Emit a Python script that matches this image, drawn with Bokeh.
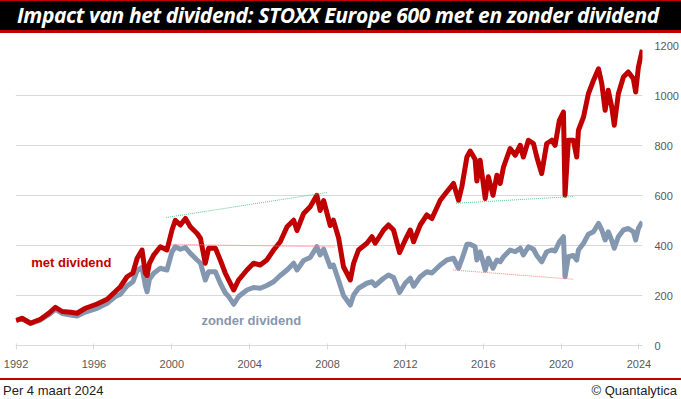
from bokeh.plotting import figure
from bokeh.models import Range1d, FixedTicker, Div
from bokeh.layouts import column
from bokeh.core.properties import value
from bokeh.embed import file_html
from bokeh.resources import INLINE

title_text = "Impact van het dividend: STOXX Europe 600 met en zonder dividend"
footer_left = "Per 4 maart 2024"
footer_right = "© Quantalytica"

dates = [1992.0, 1992.3, 1992.74, 1993.25, 1993.68, 1994.02, 1994.37, 1994.8, 1995.13, 1995.56,
         1996.16, 1996.68, 1997.1, 1997.36, 1997.7, 1998.0, 1998.22, 1998.47, 1998.64, 1998.73,
         1998.85, 1999.07, 1999.41, 1999.75, 2000.01, 2000.18, 2000.44, 2000.7, 2000.95, 2001.3,
         2001.47, 2001.72, 2001.89, 2002.24, 2002.49, 2002.75, 2002.92, 2003.18, 2003.43, 2003.86,
         2004.2, 2004.54, 2004.88, 2005.23, 2005.57, 2005.92, 2006.26, 2006.43, 2006.77, 2007.11,
         2007.45, 2007.62, 2007.8, 2008.14, 2008.3, 2008.57, 2008.82, 2009.17, 2009.34, 2009.59,
         2010.02, 2010.28, 2010.45, 2010.88, 2011.13, 2011.39, 2011.7, 2011.99, 2012.25, 2012.42,
         2012.76, 2013.1, 2013.36, 2013.79, 2014.13, 2014.47, 2014.73, 2014.9, 2015.16, 2015.33,
         2015.58, 2015.67, 2015.84, 2016.1, 2016.26, 2016.5, 2016.7, 2016.87, 2017.04, 2017.38,
         2017.64, 2017.9, 2018.06, 2018.32, 2018.58, 2018.75, 2019.0, 2019.26, 2019.52, 2019.69,
         2019.91, 2020.12, 2020.2, 2020.37, 2020.63, 2020.8, 2020.89, 2021.15, 2021.4, 2021.66,
         2021.92, 2022.09, 2022.26, 2022.42, 2022.6, 2022.73, 2022.94, 2023.2, 2023.45, 2023.71,
         2023.83, 2023.97, 2024.17]

met_dividend = [100, 109, 89, 105, 129, 153, 136, 133, 129, 149,
                166, 185, 216, 235, 275, 290, 349, 382, 290, 280,
                329, 362, 395, 382, 462, 501, 482, 508, 475, 448,
                429, 329, 389, 389, 342, 289, 262, 222, 262, 302,
                329, 322, 342, 382, 415, 475, 501, 460, 528, 555,
                601, 540, 580, 480, 501, 430, 315, 262, 329, 382,
                409, 435, 409, 462, 482, 462, 372, 422, 462, 415,
                482, 522, 508, 581, 615, 648, 581, 635, 754, 778,
                745, 658, 741, 588, 675, 601, 681, 648, 714, 788,
                761, 801, 754, 821, 808, 754, 688, 808, 821, 801,
                901, 934, 601, 821, 821, 754, 861, 914, 1007, 1060,
                1107, 1047, 941, 1021, 954, 881, 1007, 1074, 1094, 1067,
                1014, 1114, 1183]

zonder_dividend = [100, 108, 89, 102, 123, 145, 128, 122, 118, 134,
                   149, 169, 196, 205, 238, 255, 300, 312, 240, 215,
                   265, 289, 309, 302, 375, 395, 385, 392, 369, 342,
                   330, 262, 295, 295, 249, 210, 196, 165, 196, 222,
                   232, 229, 240, 255, 280, 302, 329, 302, 340, 352,
                   395, 362, 385, 315, 322, 260, 200, 162, 202, 229,
                   249, 255, 240, 269, 282, 272, 212, 249, 269, 237,
                   275, 295, 290, 322, 342, 349, 309, 345, 405, 405,
                   395, 342, 375, 302, 349, 309, 342, 335, 355, 382,
                   375, 389, 362, 395, 385, 360, 335, 375, 382, 378,
                   415, 435, 275, 355, 360, 342, 382, 409, 445, 455,
                   488, 462, 422, 455, 420, 389, 435, 462, 468, 455,
                   422, 469, 495]

# dotted trend lines (start, end)
green_1_x = [1999.71, 2007.97]
green_1_y = [512, 612]
red_1_x = [1999.99, 2008.4]
red_1_y = [405, 394]
green_2_x = [2014.6, 2020.66]
green_2_y = [569, 596]
red_2_x = [2014.44, 2020.62]
red_2_y = [302, 265]

x_ticks = [1992, 1996, 2000, 2004, 2008, 2012, 2016, 2020, 2024]
y_ticks = [0, 200, 400, 600, 800, 1000, 1200]

RED = "#C00000"
GREY = "#8497B0"

W = 681

title_div = Div(
    text=(f'<div style="width:{W}px;height:33px;box-sizing:border-box;background:#000;'
          f'border-top:1px solid {RED};border-bottom:3px solid {RED};color:#fff;'
          f'font-family:\'Open Sans\';font-weight:bold;font-style:italic;font-size:21px;'
          f'letter-spacing:-0.4px;line-height:29px;padding-left:17px;white-space:nowrap;overflow:hidden">'
          f'{title_text}</div>'),
    width=W, height=33, margin=0)

p = figure(width=W, height=345, output_backend="svg", toolbar_location=None,
           x_range=Range1d(1991.97, 2024.18), y_range=Range1d(0, 1200),
           y_axis_location="right", min_border_left=15, min_border_right=39,
           min_border_top=12, min_border_bottom=33, margin=0)
p.outline_line_color = None
p.background_fill_color = "white"
p.border_fill_color = "white"

p.xgrid.visible = False
p.ygrid.grid_line_color = "#D9D9D9"
p.ygrid.grid_line_width = 1
p.yaxis.ticker = FixedTicker(ticks=y_ticks)
p.xaxis.ticker = FixedTicker(ticks=x_ticks)

p.yaxis.axis_line_color = None
p.yaxis.major_tick_line_color = None
p.yaxis.minor_tick_line_color = None
p.yaxis.major_label_text_font = "Liberation Sans"
p.yaxis.major_label_text_font_size = "11px"
p.yaxis.major_label_text_color = "#595959"
p.yaxis.major_label_standoff = 6

p.xaxis.axis_line_color = "#D9D9D9"
p.xaxis.major_tick_line_color = "#D9D9D9"
p.xaxis.minor_tick_line_color = None
p.xaxis.major_tick_in = 2
p.xaxis.major_tick_out = 4
p.xaxis.major_label_text_font = "Liberation Sans"
p.xaxis.major_label_text_font_size = "11px"
p.xaxis.major_label_text_color = "#595959"
p.xaxis.major_label_standoff = 10

p.line(dates, zonder_dividend, line_color=GREY, line_width=5, line_join="round")
p.line(dates, met_dividend, line_color=RED, line_width=5, line_join="round")

p.line(green_1_x, green_1_y, line_color="#5CC98A", line_width=1, line_dash="1 1")
p.line(red_1_x, red_1_y, line_color="#FF7F7F", line_width=1, line_dash="1 1")
p.line(green_2_x, green_2_y, line_color="#5CC98A", line_width=1, line_dash="1 1")
p.line(red_2_x, red_2_y, line_color="#FF7F7F", line_width=1, line_dash="1 1")

p.text(x=[1994.84], y=[334], text=["met dividend"], text_color=RED,
       text_font=value("Liberation Sans"), text_font_style="bold", text_font_size="13px",
       text_align="center", text_baseline="middle")
p.text(x=[2004.08], y=[100], text=["zonder dividend"], text_color=GREY,
       text_font=value("Liberation Sans"), text_font_style="bold", text_font_size="13px",
       text_align="center", text_baseline="middle")

footer_div = Div(
    text=(f'<div style="width:{W}px;height:21px;box-sizing:border-box;border-top:2px solid {RED};'
          f'display:flex;justify-content:space-between;font-family:\'Liberation Sans\';font-size:13px;'
          f'color:#222;line-height:15px;padding:3px 4px 0 3px">'
          f'<span>{footer_left}</span><span>{footer_right}</span></div>'),
    width=W, height=21, margin=0)

layout = column(title_div, p, footer_div, spacing=0, margin=0)

open("out.html", "w").write(file_html(layout, INLINE))
